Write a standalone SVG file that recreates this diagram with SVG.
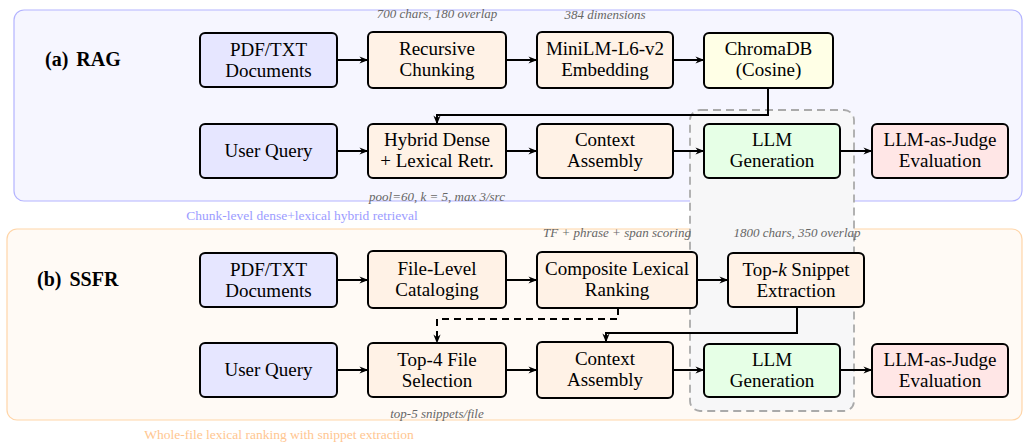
<svg xmlns="http://www.w3.org/2000/svg" width="1026" height="443" viewBox="0 0 1026 443">
  <style>
    .node rect { stroke: #000; stroke-width: 2; }
    .node text { font-family: "Liberation Serif", "Times New Roman", serif; font-size: 19px; fill: #000; text-anchor: middle; }
    .src { fill: #e6e6ff; }
    .proc { fill: #fff2e6; }
    .store { fill: #ffffe6; }
    .gen { fill: #e6ffe6; }
    .eval { fill: #ffe6e6; }
    .note { font-family: "Liberation Serif", "Times New Roman", serif; font-style: italic; font-size: 13px; fill: #666; text-anchor: middle; }
    .title { font-family: "Liberation Serif", "Times New Roman", serif; font-weight: bold; font-size: 20px; fill: #000; }
    .cap { font-family: "Liberation Serif", "Times New Roman", serif; font-size: 13.5px; text-anchor: middle; }
    .edge { fill: none; stroke: #000; stroke-width: 2; }
    .dash { stroke-dasharray: 7 5; }
  </style>
  <defs>
    <marker id="arr" viewBox="0 0 10 8" refX="9.5" refY="4" markerWidth="9" markerHeight="7.2" markerUnits="userSpaceOnUse" orient="auto" overflow="visible">
      <path d="M0,0 L10,4 L0,8 L3,4 Z" fill="#000"/>
    </marker>
  </defs>

  <!-- pipeline panels -->
  <g id="panel-rag">
    <rect x="14" y="10" width="1008" height="191" rx="10" fill="#f6f6ff" stroke="#b4b4ff" stroke-width="1.2"/>
    <text class="title" x="45" y="66">(a) <tspan dx="3">RAG</tspan></text>
    <text class="cap" x="302" y="220" fill="#9c9cff">Chunk-level dense+lexical hybrid retrieval</text>
  </g>
  <g id="panel-ssfr">
    <rect x="7" y="229" width="1015" height="191" rx="10" fill="#fffaf5" stroke="#ffd5a8" stroke-width="1.2"/>
    <text class="title" x="37" y="286">(b) <tspan dx="3">SSFR</tspan></text>
    <text class="cap" x="279" y="439" fill="#ffc690">Whole-file lexical ranking with snippet extraction</text>
  </g>

  <!-- shared generation stage -->
  <g id="shared-stage">
    <rect x="690" y="110" width="164" height="301" rx="10" fill="#f7f7f8" stroke="#aaaaaa" stroke-width="1.8" stroke-dasharray="8 5"/>
  </g>

  <!-- annotations -->
  <g id="notes">
    <text class="note" x="437" y="18">700 chars, 180 overlap</text>
    <text class="note" x="605" y="19">384 dimensions</text>
    <text class="note" x="437" y="201">pool=60, k = 5, max 3/src</text>
    <text class="note" x="617" y="237">TF + phrase + span scoring</text>
    <text class="note" x="797" y="237">1800 chars, 350 overlap</text>
    <text class="note" x="437" y="418">top-5 snippets/file</text>
  </g>

  <!-- connectors -->
  <g id="connectors">
    <line class="edge" x1="337" y1="60" x2="368" y2="60" marker-end="url(#arr)"/>
    <line class="edge" x1="506" y1="60" x2="537" y2="60" marker-end="url(#arr)"/>
    <line class="edge" x1="673" y1="60" x2="704" y2="60" marker-end="url(#arr)"/>
    <polyline class="edge" points="768,88 768,115 437,115 437,124" marker-end="url(#arr)"/>
    <line class="edge" x1="337" y1="151" x2="368" y2="151" marker-end="url(#arr)"/>
    <line class="edge" x1="506" y1="151" x2="537" y2="151" marker-end="url(#arr)"/>
    <line class="edge" x1="673" y1="151" x2="704" y2="151" marker-end="url(#arr)"/>
    <line class="edge" x1="840" y1="151" x2="872" y2="151" marker-end="url(#arr)"/>

    <line class="edge" x1="337" y1="280" x2="368" y2="280" marker-end="url(#arr)"/>
    <line class="edge" x1="506" y1="280" x2="537" y2="280" marker-end="url(#arr)"/>
    <line class="edge" x1="697" y1="280" x2="728" y2="280" marker-end="url(#arr)"/>
    <polyline class="edge dash" points="618,308 618,319 437,319 437,343" marker-end="url(#arr)"/>
    <polyline class="edge" points="797,307 797,333 606,333 606,342" marker-end="url(#arr)"/>
    <line class="edge" x1="337" y1="370" x2="368" y2="370" marker-end="url(#arr)"/>
    <line class="edge" x1="506" y1="370" x2="537" y2="370" marker-end="url(#arr)"/>
    <line class="edge" x1="673" y1="370" x2="704" y2="370" marker-end="url(#arr)"/>
    <line class="edge" x1="840" y1="370" x2="872" y2="370" marker-end="url(#arr)"/>
  </g>

  <!-- RAG nodes -->
  <g id="rag-docs" class="node">
    <rect class="src" x="200" y="33" width="137" height="54" rx="5"/>
    <text x="268.5" y="56">PDF/TXT</text>
    <text x="268.5" y="77">Documents</text>
  </g>
  <g id="rag-chunk" class="node">
    <rect class="proc" x="368" y="32" width="138" height="56" rx="5"/>
    <text x="437" y="55">Recursive</text>
    <text x="437" y="76">Chunking</text>
  </g>
  <g id="rag-embed" class="node">
    <rect class="proc" x="537" y="32" width="136" height="56" rx="5"/>
    <text x="605" y="55">MiniLM-L6-v2</text>
    <text x="605" y="76">Embedding</text>
  </g>
  <g id="rag-store" class="node">
    <rect class="store" x="704" y="33" width="129" height="55" rx="5"/>
    <text x="768.5" y="55">ChromaDB</text>
    <text x="768.5" y="76">(Cosine)</text>
  </g>
  <g id="rag-query" class="node">
    <rect class="src" x="200" y="124" width="137" height="54" rx="5"/>
    <text x="268.5" y="157">User Query</text>
  </g>
  <g id="rag-retrieve" class="node">
    <rect class="proc" x="368" y="124" width="138" height="54" rx="5"/>
    <text x="437" y="146">Hybrid Dense</text>
    <text x="437" y="167">+ Lexical Retr.</text>
  </g>
  <g id="rag-context" class="node">
    <rect class="proc" x="537" y="124" width="136" height="54" rx="5"/>
    <text x="605" y="146">Context</text>
    <text x="605" y="167">Assembly</text>
  </g>
  <g id="rag-llm" class="node">
    <rect class="gen" x="704" y="124" width="136" height="54" rx="5"/>
    <text x="772" y="146">LLM</text>
    <text x="772" y="167">Generation</text>
  </g>
  <g id="rag-judge" class="node">
    <rect class="eval" x="872" y="124" width="136" height="54" rx="5"/>
    <text x="940" y="146">LLM-as-Judge</text>
    <text x="940" y="167">Evaluation</text>
  </g>

  <!-- SSFR nodes -->
  <g id="ssfr-docs" class="node">
    <rect class="src" x="200" y="253" width="137" height="54" rx="5"/>
    <text x="268.5" y="276">PDF/TXT</text>
    <text x="268.5" y="297">Documents</text>
  </g>
  <g id="ssfr-catalog" class="node">
    <rect class="proc" x="368" y="251" width="138" height="57" rx="5"/>
    <text x="437" y="275">File-Level</text>
    <text x="437" y="296">Cataloging</text>
  </g>
  <g id="ssfr-rank" class="node">
    <rect class="proc" x="537" y="252" width="160" height="56" rx="5"/>
    <text x="617" y="275">Composite Lexical</text>
    <text x="617" y="296">Ranking</text>
  </g>
  <g id="ssfr-snippet" class="node">
    <rect class="proc" x="728" y="253" width="136" height="54" rx="5"/>
    <text x="796" y="276">Top-<tspan font-style="italic">k</tspan> Snippet</text>
    <text x="796" y="297">Extraction</text>
  </g>
  <g id="ssfr-query" class="node">
    <rect class="src" x="200" y="343" width="137" height="54" rx="5"/>
    <text x="268.5" y="376">User Query</text>
  </g>
  <g id="ssfr-select" class="node">
    <rect class="proc" x="368" y="343" width="138" height="54" rx="5"/>
    <text x="437" y="366">Top-4 File</text>
    <text x="437" y="387">Selection</text>
  </g>
  <g id="ssfr-context" class="node">
    <rect class="proc" x="537" y="342" width="136" height="56" rx="5"/>
    <text x="605" y="365">Context</text>
    <text x="605" y="386">Assembly</text>
  </g>
  <g id="ssfr-llm" class="node">
    <rect class="gen" x="704" y="344" width="136" height="53" rx="5"/>
    <text x="772" y="366">LLM</text>
    <text x="772" y="387">Generation</text>
  </g>
  <g id="ssfr-judge" class="node">
    <rect class="eval" x="872" y="344" width="136" height="53" rx="5"/>
    <text x="940" y="366">LLM-as-Judge</text>
    <text x="940" y="387">Evaluation</text>
  </g>
</svg>
